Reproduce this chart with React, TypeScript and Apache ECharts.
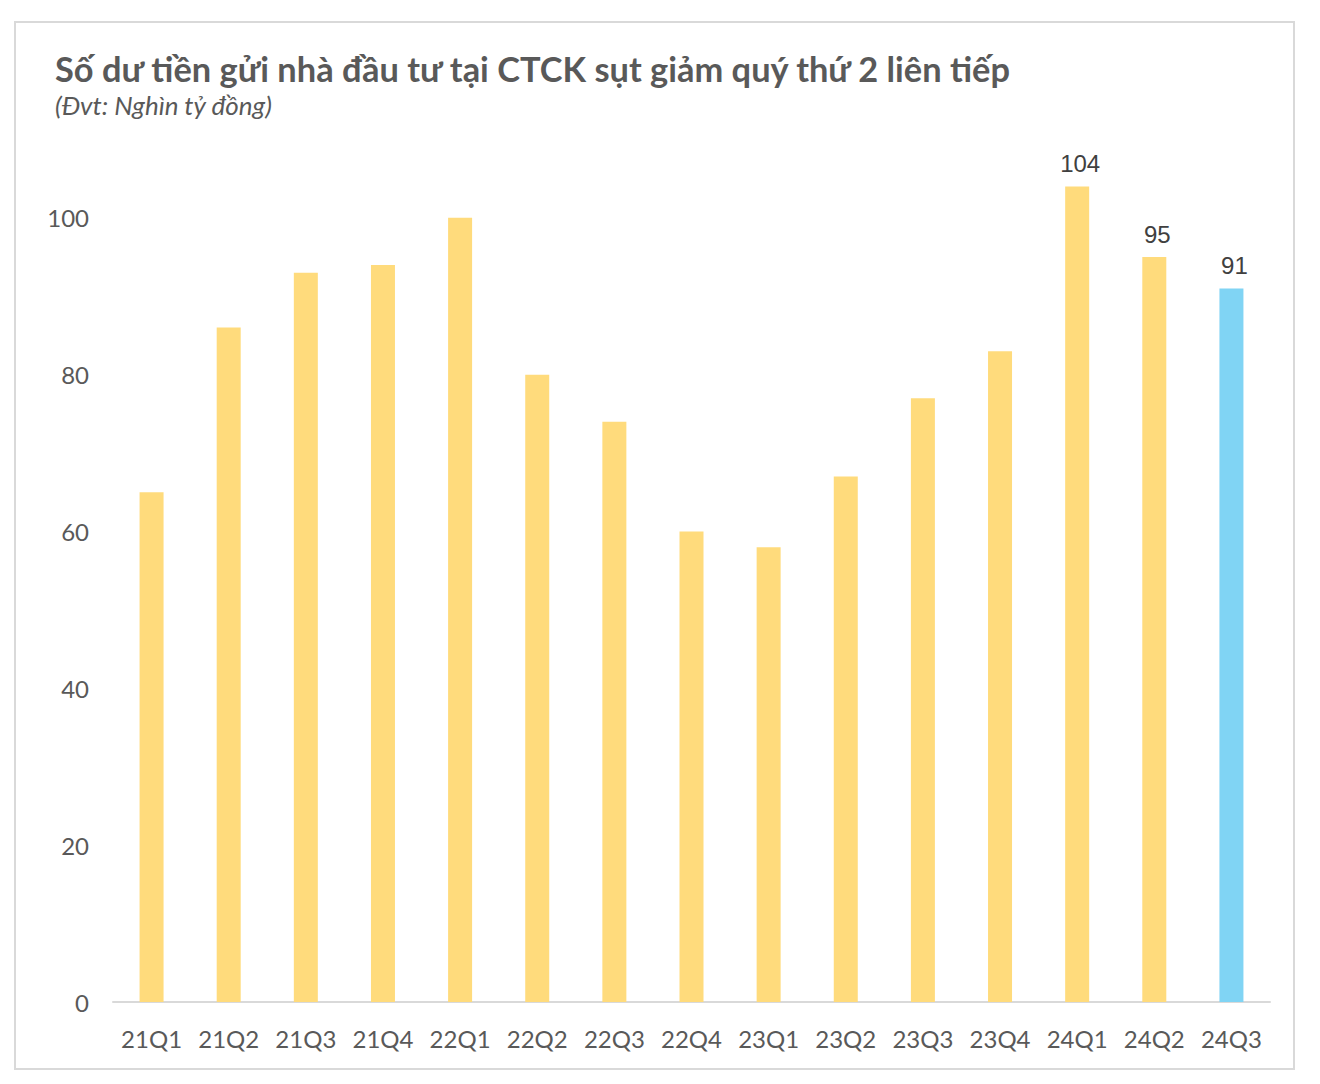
import React, { useEffect, useRef } from "react";
import * as echarts from "echarts";

const categories = ["21Q1","21Q2","21Q3","21Q4","22Q1","22Q2","22Q3","22Q4","23Q1","23Q2","23Q3","23Q4","24Q1","24Q2","24Q3"];
const values = [65, 86, 93, 94, 100, 80, 74, 60, 58, 67, 77, 83, 104, 95, 91];
const labelledCategories = ["24Q1", "24Q2", "24Q3"];
const highlightCategory = "24Q3";
const yTicks = [0, 20, 40, 60, 80, 100];

const TITLE = "Số dư tiền gửi nhà đầu tư tại CTCK sụt giảm quý thứ 2 liên tiếp";
const SUBTITLE = "(Đvt: Nghìn tỷ đồng)";

export default function App() {
  const ref = useRef<HTMLDivElement>(null);
  useEffect(() => {
    if (!ref.current) return;
    const chart = echarts.init(ref.current, null, { renderer: "svg" });
    const data = values.map((v, i) => ({
      value: v,
      itemStyle: { color: categories[i] === highlightCategory ? "#80D4F4" : "#FFDB7C" },
      label: { show: labelledCategories.includes(categories[i]) },
    }));
    chart.setOption({
      animation: false,
      backgroundColor: "#ffffff",
      graphic: [
        {
          type: "rect",
          shape: { x: 15, y: 22, width: 1279, height: 1047 },
          style: { fill: "none", stroke: "#d9d9d9", lineWidth: 2 },
          z: -1,
        },
        {
          type: "text",
          left: 55,
          top: 51,
          style: {
            text: TITLE,
            font: "bold 34.4px Lato, 'Noto Sans', sans-serif",
            fill: "#595959",
          },
        },
        {
          type: "text",
          left: 55,
          top: 92,
          style: {
            text: SUBTITLE,
            font: "italic 26px Lato, 'Noto Sans', sans-serif",
            fill: "#595959",
          },
        },
      ],
      grid: { left: 113, right: 50, top: 61, bottom: 82, containLabel: false },
      xAxis: {
        type: "category",
        data: categories,
        axisLine: { lineStyle: { color: "#d9d9d9", width: 2 } },
        axisTick: { show: false },
        axisLabel: {
          color: "#595959",
          fontSize: 24,
          fontFamily: "Lato, 'Noto Sans', sans-serif",
          margin: 24,
          interval: 0,
        },
      },
      yAxis: {
        type: "value",
        min: 0,
        max: 120,
        interval: 20,
        splitLine: { show: false },
        axisLine: { show: false },
        axisTick: { show: false },
        axisLabel: {
          color: "#595959",
          fontSize: 24,
          fontFamily: "Lato, 'Noto Sans', sans-serif",
          margin: 24,
          formatter: (v: number) => (yTicks.includes(v) ? String(v) : ""),
        },
      },
      series: [
        {
          type: "bar",
          data,
          barWidth: 24,
          label: {
            position: "top",
            distance: 11,
            offset: [3, 0],
            color: "#404040",
            fontSize: 24,
            fontFamily: "'Liberation Sans', Arial, sans-serif",
          },
        },
      ],
    });
    return () => chart.dispose();
  }, []);
  return (
    <div
      ref={ref}
      style={{ position: "absolute", left: 0, top: 0, width: 1320, height: 1084 }}
    />
  );
}
